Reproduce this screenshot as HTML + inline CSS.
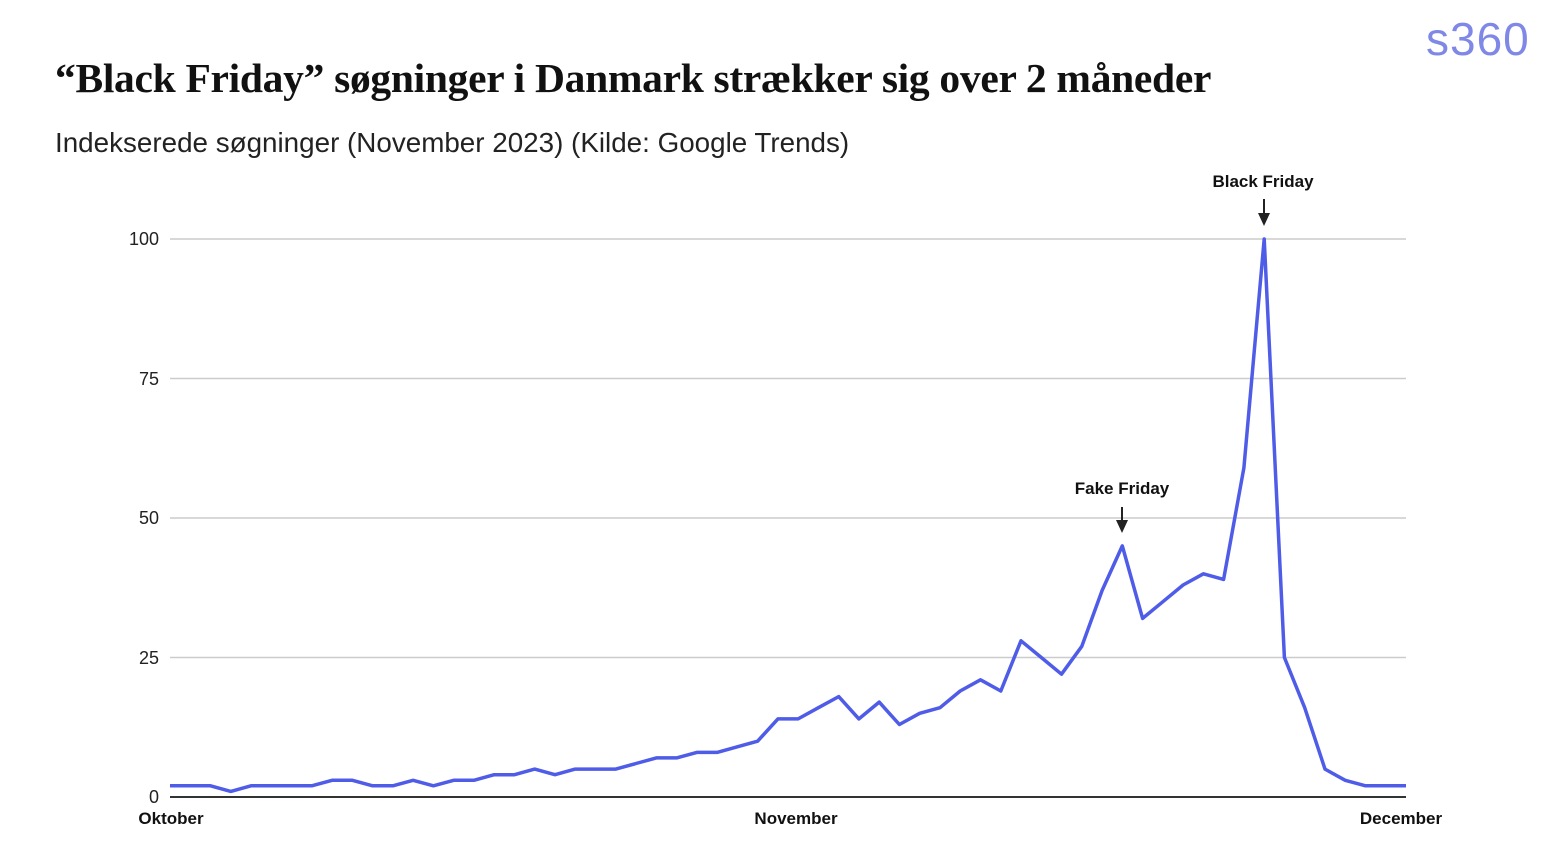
<!DOCTYPE html>
<html><head><meta charset="utf-8"><style>
body{margin:0;background:#fff;width:1558px;height:847px;overflow:hidden;position:relative;font-family:"Liberation Sans",sans-serif}
.t{position:absolute;left:55px;top:54px;font-family:"Liberation Serif",serif;font-weight:bold;font-size:41.5px;color:#111;letter-spacing:-0.3px;white-space:nowrap}
.s{position:absolute;left:55px;top:127px;font-size:27.8px;color:#222;white-space:nowrap}
.logo{position:absolute;left:1426px;top:12px;font-size:46px;color:#7f88e6;letter-spacing:1px}
</style></head><body>
<div class="t">“Black Friday” søgninger i Danmark strækker sig over 2 måneder</div>
<div class="s">Indekserede søgninger (November 2023) (Kilde: Google Trends)</div>
<div class="logo">s360</div>
<svg width="1558" height="847" style="position:absolute;left:0;top:0">
<g stroke="#ccc" stroke-width="1.5">
<line x1="170" x2="1406" y1="239" y2="239"/><line x1="170" x2="1406" y1="378.5" y2="378.5"/>
<line x1="170" x2="1406" y1="518" y2="518"/><line x1="170" x2="1406" y1="657.5" y2="657.5"/>
</g>
<line x1="170" x2="1406" y1="797" y2="797" stroke="#333" stroke-width="2"/>
<g font-family="Liberation Sans" font-size="18" fill="#222" text-anchor="end">
<text x="159" y="245">100</text><text x="159" y="385">75</text><text x="159" y="524">50</text><text x="159" y="664">25</text><text x="159" y="803">0</text>
</g>
<g font-family="Liberation Sans" font-weight="bold" font-size="17" fill="#111" text-anchor="middle">
<text x="171" y="824">Oktober</text><text x="796" y="824">November</text><text x="1401" y="824">December</text>
<text x="1263" y="187">Black Friday</text><text x="1122" y="494">Fake Friday</text>
</g>
<g stroke="#222" stroke-width="2"><line x1="1264" y1="199" x2="1264" y2="216"/><line x1="1122" y1="507" x2="1122" y2="523"/></g>
<path d="M1258 213L1270 213L1264 226Z M1116 520L1128 520L1122 533Z" fill="#222"/>
<polyline id="p" fill="none" stroke="#4f5ce8" stroke-width="3.5" stroke-linejoin="round"/>
</svg>
<script>
var v=[2,2,2,1,2,2,2,2,3,3,2,2,3,2,3,3,4,4,5,4,5,5,5,6,7,7,8,8,9,10,14,14,16,18,14,17,13,15,16,19,21,19,28,25,22,27,37,45,32,35,38,40,39,59,100,25,16,5,3,2,2,2];
var s="";for(var i=0;i<v.length;i++){s+=(170+i*1236/61).toFixed(1)+","+(797-v[i]*5.58).toFixed(1)+" ";}
document.getElementById("p").setAttribute("points",s);
</script>
</body></html>
